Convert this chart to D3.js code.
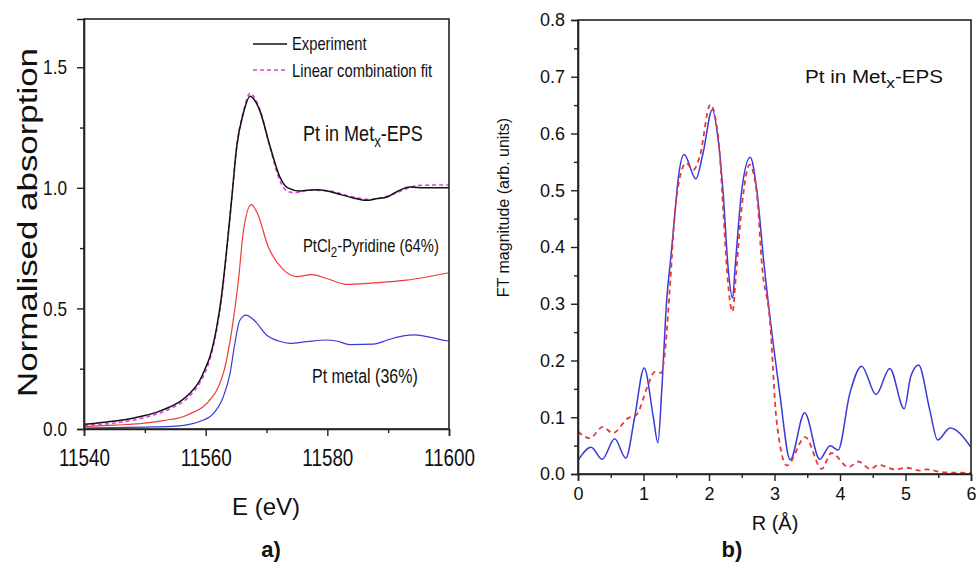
<!DOCTYPE html>
<html>
<head>
<meta charset="utf-8">
<script src="https://cdn.jsdelivr.net/npm/d3@7"></script>
<style>
  body { margin: 0; background: #fff; }
  svg { display: block; }
</style>
</head>
<body>
<svg id="chart" width="978" height="562"></svg>
<script>
// ---------- Panel a) XANES data (E in eV, normalised absorption) ----------
const xanesExperiment = [
  [11540, 0.020], [11542, 0.024], [11544, 0.030], [11546, 0.036], [11548, 0.045],
  [11550, 0.056], [11552, 0.070], [11554, 0.090], [11556, 0.118], [11557.5, 0.150],
  [11559, 0.200], [11560, 0.255], [11560.7, 0.300], [11561.8, 0.420], [11562.6, 0.550],
  [11563.5, 0.755], [11564.3, 0.960], [11565.1, 1.170], [11566.2, 1.310], [11567.3, 1.380],
  [11568, 1.365], [11568.9, 1.320], [11570.6, 1.170], [11572.2, 1.045], [11573.5, 1.000],
  [11575.5, 0.987], [11578, 0.992], [11580, 0.987], [11582, 0.973], [11584, 0.960],
  [11586.5, 0.948], [11588, 0.955], [11589.8, 0.962], [11591.5, 0.985], [11593.6, 1.003],
  [11596, 1.000], [11600, 1.000]
];
const xanesFit = [
  [11540, 0.015], [11545, 0.025], [11550, 0.048], [11554, 0.082], [11557.5, 0.140],
  [11559, 0.190], [11560.7, 0.290], [11561.8, 0.410], [11562.6, 0.540], [11563.5, 0.750],
  [11564.3, 0.960], [11565.1, 1.170], [11566.2, 1.315], [11567.3, 1.392], [11568, 1.375],
  [11568.9, 1.325], [11570.6, 1.165], [11572.2, 1.030], [11573.5, 0.985], [11574.5, 0.980],
  [11577, 0.990], [11580, 0.988], [11584, 0.963], [11587, 0.952], [11590, 0.966],
  [11593, 0.996], [11595, 1.010], [11600, 1.012]
];
const xanesPtCl2 = [
  [11540, 0.010], [11545, 0.016], [11550, 0.024], [11553, 0.035], [11556.3, 0.051],
  [11558, 0.070], [11559.6, 0.092], [11561, 0.130], [11561.8, 0.160], [11563.2, 0.260],
  [11564.3, 0.410], [11565.4, 0.620], [11566.2, 0.820], [11567.5, 0.930], [11568.5, 0.895],
  [11570.3, 0.755], [11571.1, 0.715], [11572.8, 0.660], [11575, 0.632], [11577.4, 0.640],
  [11579.9, 0.624], [11583.2, 0.600], [11587.6, 0.606], [11593, 0.617], [11600, 0.648]
];
const xanesPtMetal = [
  [11540, 0.004], [11545, 0.006], [11550, 0.008], [11555.2, 0.012], [11557.5, 0.020],
  [11559.1, 0.032], [11561.3, 0.065], [11562.9, 0.134], [11564, 0.230], [11564.8, 0.355],
  [11565.6, 0.450], [11566.6, 0.472], [11568, 0.450], [11570, 0.390], [11572, 0.365],
  [11573.9, 0.355], [11576.6, 0.362], [11579.9, 0.369], [11581.5, 0.365], [11583.7, 0.350],
  [11587.6, 0.352], [11590, 0.370], [11592.5, 0.386], [11594.4, 0.390], [11597, 0.380],
  [11599.6, 0.366], [11600, 0.365]
];
const xanesXTicks = [11540, 11560, 11580, 11600];
const xanesXMinor = [11550, 11570, 11590];
const xanesYTicks = [0.0, 0.5, 1.0, 1.5];
const xanesYMinor = [0.25, 0.75, 1.25];

// ---------- Panel b) FT magnitude data (R in Å) ----------
const ftExperiment = [
  [0, 0.024], [0.2, 0.047], [0.37, 0.026], [0.56, 0.062], [0.73, 0.028], [0.865, 0.100],
  [1.01, 0.187], [1.15, 0.100], [1.22, 0.055], [1.28, 0.150], [1.35, 0.300], [1.42, 0.385],
  [1.48, 0.460], [1.53, 0.520], [1.62, 0.563], [1.80, 0.520], [1.91, 0.566], [2.05, 0.642],
  [2.14, 0.589], [2.22, 0.489], [2.29, 0.366], [2.36, 0.310], [2.40, 0.366], [2.50, 0.500],
  [2.63, 0.558], [2.73, 0.500], [2.84, 0.370], [2.98, 0.230], [3.08, 0.142], [3.24, 0.025],
  [3.46, 0.108], [3.69, 0.026], [3.85, 0.050], [3.97, 0.042], [4.15, 0.142], [4.33, 0.190],
  [4.55, 0.140], [4.76, 0.186], [4.98, 0.115], [5.08, 0.172], [5.20, 0.192], [5.37, 0.113],
  [5.49, 0.060], [5.68, 0.081], [6.0, 0.047]
];
const ftFit = [
  [0, 0.075], [0.18, 0.063], [0.38, 0.083], [0.53, 0.072], [0.76, 0.098], [0.89, 0.104],
  [1.07, 0.157], [1.17, 0.180], [1.27, 0.178], [1.32, 0.207], [1.40, 0.324], [1.48, 0.460],
  [1.55, 0.520], [1.65, 0.548], [1.76, 0.536], [1.86, 0.560], [2.02, 0.651], [2.14, 0.595],
  [2.22, 0.460], [2.27, 0.366], [2.36, 0.286], [2.41, 0.348], [2.50, 0.470], [2.62, 0.545],
  [2.73, 0.494], [2.81, 0.366], [2.93, 0.270], [3.03, 0.096], [3.19, 0.015], [3.47, 0.065],
  [3.72, 0.009], [3.87, 0.037], [4.13, 0.012], [4.28, 0.022], [4.46, 0.009], [4.59, 0.016],
  [4.84, 0.008], [5.02, 0.011], [5.22, 0.006], [5.32, 0.008], [5.58, 0.003], [6.0, 0.002]
];
const ftXTicks = [0, 1, 2, 3, 4, 5, 6];
const ftXMinor = [0.5, 1.5, 2.5, 3.5, 4.5, 5.5];
const ftYTicks = [0.0, 0.1, 0.2, 0.3, 0.4, 0.5, 0.6, 0.7, 0.8];
const ftYMinor = [0.05, 0.15, 0.25, 0.35, 0.45, 0.55, 0.65, 0.75];

// ---------- Drawing ----------
const svg = d3.select("#chart");
const SANS = "'Liberation Sans', Arial, sans-serif";
const AXIS_COLOR = "#222";
const NARROW_F = 0.82;   // emulate Arial Narrow by horizontal compression

// compress a text element horizontally about its anchor x
function narrow(sel, f = NARROW_F) {
  sel.each(function () {
    const t = d3.select(this);
    const x = +t.attr("x") || 0;
    const prev = t.attr("transform") || "";
    t.attr("transform", `${prev} translate(${x},0) scale(${f},1) translate(${-x},0)`);
  });
  return sel;
}

function drawAxes(g, x, y, opts) {
  const [x0, x1] = x.range();
  const [y0, y1] = y.range();
  g.append("rect").attr("x", x0).attr("y", y1).attr("width", x1 - x0).attr("height", y0 - y1)
    .attr("fill", "none").attr("stroke", AXIS_COLOR).attr("stroke-width", 1.6);
  const xa = g.append("g").attr("transform", `translate(0,${y0})`)
    .call(d3.axisBottom(x).tickValues(opts.xTicks).tickSize(opts.major).tickPadding(opts.xPad).tickFormat(opts.xFmt));
  g.append("g").attr("transform", `translate(0,${y0})`)
    .call(d3.axisBottom(x).tickValues(opts.xMinor).tickSize(opts.minor).tickFormat(""))
    .call(s => s.select(".domain").remove());
  const ya = g.append("g").attr("transform", `translate(${x0},0)`)
    .call(d3.axisLeft(y).tickValues(opts.yTicks).tickSize(opts.major).tickPadding(opts.yPad).tickFormat(opts.yFmt));
  g.append("g").attr("transform", `translate(${x0},0)`)
    .call(d3.axisLeft(y).tickValues(opts.yMinor).tickSize(opts.minor).tickFormat(""))
    .call(s => s.select(".domain").remove());
  g.selectAll(".domain").attr("stroke", AXIS_COLOR).attr("stroke-width", 1.6);
  g.selectAll(".tick line").attr("stroke", AXIS_COLOR).attr("stroke-width", 1.4);
  const xt = xa.selectAll("text").attr("font-family", SANS).attr("font-size", opts.xFont).attr("fill", "#111");
  const yt = ya.selectAll("text").attr("font-family", SANS).attr("font-size", opts.yFont).attr("fill", "#111");
  if (opts.narrow) { narrow(xt); narrow(yt); }
}

svg.append("defs").append("clipPath").attr("id", "clipA")
  .append("rect").attr("x", 84).attr("y", 19).attr("width", 365).attr("height", 410);
svg.select("defs").append("clipPath").attr("id", "clipB")
  .append("rect").attr("x", 578).attr("y", 20).attr("width", 393).attr("height", 454);

// ----- Panel a -----
const xA = d3.scaleLinear().domain([11540, 11600]).range([84, 449]);
const yA = d3.scaleLinear().domain([0, 1.7]).range([429, 19]);
const gA = svg.append("g");

const lineA = d3.line().x(d => xA(d[0])).y(d => yA(d[1])).curve(d3.curveMonotoneX);
const curvesA = gA.append("g").attr("clip-path", "url(#clipA)");
curvesA.append("path").datum(xanesPtMetal).attr("d", lineA)
  .attr("fill", "none").attr("stroke", "#3b3bd6").attr("stroke-width", 1.2);
curvesA.append("path").datum(xanesPtCl2).attr("d", lineA)
  .attr("fill", "none").attr("stroke", "#ee3b34").attr("stroke-width", 1.2);
curvesA.append("path").datum(xanesFit).attr("d", lineA)
  .attr("fill", "none").attr("stroke", "#e040e6").attr("stroke-width", 1.6).attr("stroke-dasharray", "4,3");
curvesA.append("path").datum(xanesExperiment).attr("d", lineA)
  .attr("fill", "none").attr("stroke", "#111").attr("stroke-width", 1.5);

drawAxes(gA, xA, yA, {
  xTicks: xanesXTicks, xMinor: xanesXMinor, yTicks: xanesYTicks, yMinor: xanesYMinor,
  major: 7, minor: 4, xPad: 14, yPad: 10, xFmt: d3.format("d"), yFmt: d3.format(".1f"),
  xFont: 23, yFont: 21, narrow: true
});

// legend a
gA.append("line").attr("x1", 253).attr("x2", 287).attr("y1", 44).attr("y2", 44)
  .attr("stroke", "#111").attr("stroke-width", 1.5);
gA.append("line").attr("x1", 253).attr("x2", 287).attr("y1", 70).attr("y2", 70)
  .attr("stroke", "#e040e6").attr("stroke-width", 1.6).attr("stroke-dasharray", "4,3");
narrow(gA.append("text").attr("x", 292).attr("y", 50).attr("font-family", SANS).attr("font-size", 18)
  .attr("fill", "#111").text("Experiment"));
narrow(gA.append("text").attr("x", 292).attr("y", 77).attr("font-family", SANS).attr("font-size", 18)
  .attr("fill", "#111").text("Linear combination fit"));

// annotations a
const tA1 = gA.append("text").attr("x", 303).attr("y", 141).attr("font-family", SANS)
  .attr("font-size", 22).attr("fill", "#111");
tA1.append("tspan").text("Pt in Met");
tA1.append("tspan").attr("dy", 6).attr("font-size", 16).text("x");
tA1.append("tspan").attr("dy", -6).text("-EPS");
narrow(tA1);

const tA2 = gA.append("text").attr("x", 303).attr("y", 252).attr("font-family", SANS)
  .attr("font-size", 18).attr("fill", "#111");
tA2.append("tspan").text("PtCl");
tA2.append("tspan").attr("dy", 5).attr("font-size", 14).text("2");
tA2.append("tspan").attr("dy", -5).text("-Pyridine (64%)");
narrow(tA2);

narrow(gA.append("text").attr("x", 312).attr("y", 383).attr("font-family", SANS)
  .attr("font-size", 19.5).attr("fill", "#111").text("Pt metal (36%)"));

// axis titles a
gA.append("text").attr("transform", "translate(37,222.5) rotate(-90)").attr("text-anchor", "middle")
  .attr("font-family", SANS).attr("font-size", 27).attr("fill", "#111")
  .attr("textLength", 349).attr("lengthAdjust", "spacingAndGlyphs")
  .text("Normalised absorption");
gA.append("text").attr("x", 266).attr("y", 515).attr("text-anchor", "middle")
  .attr("font-family", SANS).attr("font-size", 24).attr("fill", "#111").text("E (eV)");
gA.append("text").attr("x", 271).attr("y", 557).attr("text-anchor", "middle")
  .attr("font-family", SANS).attr("font-size", 22).attr("font-weight", "bold").attr("fill", "#111").text("a)");

// ----- Panel b -----
const xB = d3.scaleLinear().domain([0, 6]).range([578, 971]);
const yB = d3.scaleLinear().domain([0, 0.8]).range([474, 20]);
const gB = svg.append("g");
const lineB = d3.line().x(d => xB(d[0])).y(d => yB(d[1])).curve(d3.curveMonotoneX);
const curvesB = gB.append("g").attr("clip-path", "url(#clipB)");
curvesB.append("path").datum(ftExperiment).attr("d", lineB)
  .attr("fill", "none").attr("stroke", "#3a3ad8").attr("stroke-width", 1.5);
curvesB.append("path").datum(ftFit).attr("d", lineB)
  .attr("fill", "none").attr("stroke", "#e8383a").attr("stroke-width", 1.8).attr("stroke-dasharray", "5,4");

drawAxes(gB, xB, yB, {
  xTicks: ftXTicks, xMinor: ftXMinor, yTicks: ftYTicks, yMinor: ftYMinor,
  major: 7, minor: 4, xPad: 6, yPad: 6, xFmt: d3.format("d"), yFmt: d3.format(".1f"),
  xFont: 18, yFont: 18, narrow: false
});

const tB1 = gB.append("text").attr("x", 805).attr("y", 83).attr("font-family", SANS)
  .attr("font-size", 18).attr("fill", "#111").attr("textLength", 138).attr("lengthAdjust", "spacingAndGlyphs");
tB1.append("tspan").text("Pt in Met");
tB1.append("tspan").attr("dy", 5).attr("font-size", 15).text("x");
tB1.append("tspan").attr("dy", -5).text("-EPS");

gB.append("text").attr("transform", "translate(509,207.5) rotate(-90)").attr("text-anchor", "middle")
  .attr("font-family", SANS).attr("font-size", 16).attr("fill", "#111").text("FT magnitude (arb. units)");
gB.append("text").attr("x", 775).attr("y", 530).attr("text-anchor", "middle")
  .attr("font-family", SANS).attr("font-size", 20).attr("fill", "#111").text("R (Å)");
gB.append("text").attr("x", 732).attr("y", 557).attr("text-anchor", "middle")
  .attr("font-family", SANS).attr("font-size", 22).attr("font-weight", "bold").attr("fill", "#111").text("b)");
</script>
</body>
</html>
